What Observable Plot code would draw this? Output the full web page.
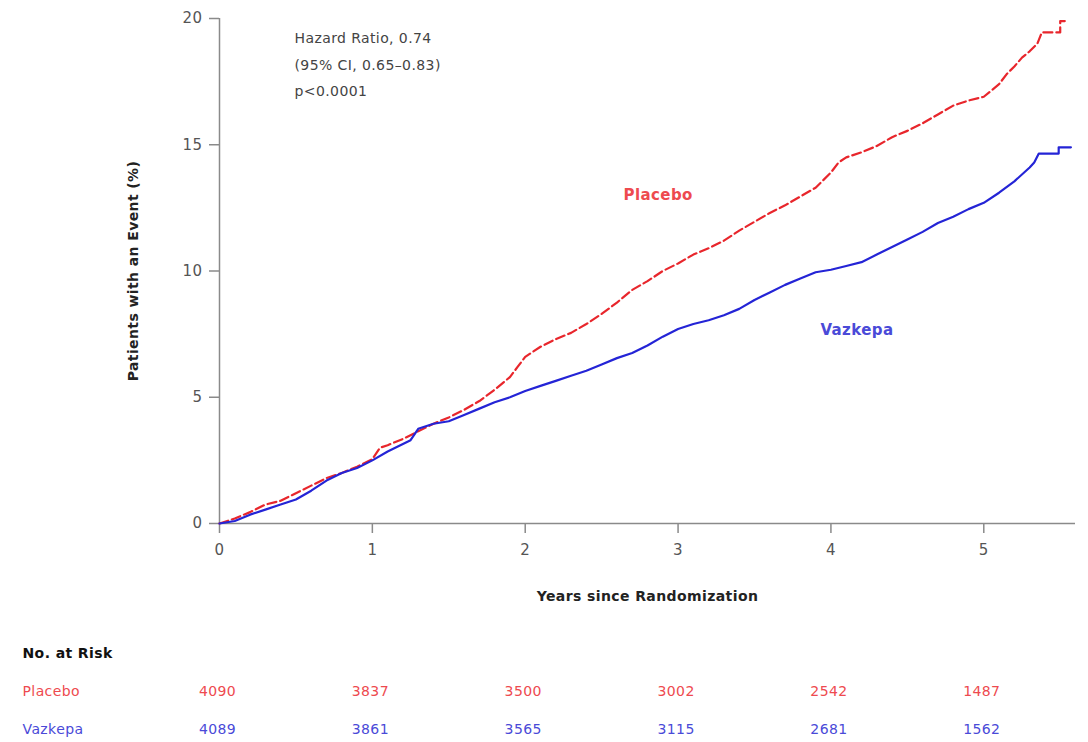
<!DOCTYPE html>
<html><head><meta charset="utf-8">
<script src="https://cdn.jsdelivr.net/npm/d3@7"></script>
<script src="https://cdn.jsdelivr.net/npm/@observablehq/plot@0.6"></script>
<style>
html,body{margin:0;padding:0;background:#fff;overflow:hidden;}
#chart svg{display:block;}
#chart text{letter-spacing:0.4px;}
</style></head><body><div id="chart"></div>
<script>
// ---- data ----
const placeboYears = [0,0.1,0.2,0.3,0.4,0.5,0.6,0.7,0.8,0.9,1.0,1.05,1.1,1.2,1.3,1.4,1.5,1.6,1.7,1.8,1.9,1.95,2.0,2.1,2.2,2.3,2.4,2.5,2.6,2.7,2.8,2.9,3.0,3.1,3.2,3.3,3.4,3.5,3.6,3.7,3.8,3.9,4.0,4.05,4.1,4.2,4.3,4.4,4.5,4.6,4.7,4.8,4.9,5.0,5.1,5.15,5.2,5.25,5.3,5.35,5.38,5.5,5.5,5.53];
const placeboPct   = [0,0.2,0.45,0.75,0.9,1.2,1.5,1.8,2.0,2.25,2.55,3.0,3.1,3.35,3.65,3.95,4.2,4.5,4.85,5.3,5.8,6.2,6.6,7.0,7.3,7.55,7.9,8.3,8.75,9.25,9.6,10.0,10.3,10.65,10.9,11.2,11.6,11.95,12.3,12.6,12.95,13.3,13.9,14.3,14.5,14.7,14.95,15.3,15.55,15.85,16.2,16.55,16.75,16.9,17.4,17.8,18.1,18.45,18.7,19.0,19.45,19.45,19.9,19.9];
const vazkepaYears = [0,0.1,0.2,0.3,0.4,0.5,0.6,0.7,0.8,0.9,1.0,1.1,1.2,1.25,1.3,1.4,1.5,1.6,1.7,1.8,1.9,2.0,2.1,2.2,2.3,2.4,2.5,2.6,2.7,2.8,2.9,3.0,3.1,3.2,3.3,3.4,3.5,3.6,3.7,3.8,3.9,4.0,4.1,4.2,4.3,4.4,4.5,4.6,4.7,4.8,4.9,5.0,5.1,5.2,5.3,5.33,5.36,5.49,5.49,5.57];
const vazkepaPct   = [0,0.1,0.35,0.55,0.75,0.95,1.3,1.7,2.0,2.2,2.5,2.85,3.15,3.3,3.75,3.95,4.05,4.3,4.55,4.8,5.0,5.25,5.45,5.65,5.85,6.05,6.3,6.55,6.75,7.05,7.4,7.7,7.9,8.05,8.25,8.5,8.85,9.15,9.45,9.7,9.95,10.05,10.2,10.35,10.65,10.95,11.25,11.55,11.9,12.15,12.45,12.7,13.1,13.55,14.1,14.3,14.65,14.65,14.9,14.9];
const xTicks = [0,1,2,3,4,5];
const yTicks = [0,5,10,15,20];
const riskYears = [0,1,2,3,4,5];
const placeboAtRisk = [4090,3837,3500,3002,2542,1487];
const vazkepaAtRisk = [4089,3861,3565,3115,2681,1562];
const groups = ["Placebo","Vazkepa"];
const riskTitle = "No. at Risk";
const hrText = "Hazard Ratio, 0.74\n(95% CI, 0.65\u20130.83)\np<0.0001";
const xLabel = "Years since Randomization";
const yLabel = "Patients with an Event (%)";

// ---- build ----
const RED = "#e8262c", BLUE = "#2424d6";
const RED_T = "#ee4a4f", BLUE_T = "#4a4ad8";
const AXIS = "#8a8a8a", TICKTXT = "#555";
const FONT = "'DejaVu Sans', 'Liberation Sans', sans-serif";

const placebo = placeboYears.map((t,i)=>({t, v:placeboPct[i]}));
const vazkepa = vazkepaYears.map((t,i)=>({t, v:vazkepaPct[i]}));

const main = Plot.plot({
  width:1088, height:620,
  marginTop:18, marginLeft:219, marginRight:13, marginBottom:97,
  x:{domain:[0,5.6]},
  y:{domain:[0,20]},
  style:{fontFamily:FONT, fontSize:"14px", background:"#fff", overflow:"visible"},
  marks:[
    Plot.axisX({ticks:xTicks, tickSize:10, tickPadding:11, stroke:AXIS, fill:TICKTXT, strokeWidth:1.5, label:null, tickFormat:d=>String(d), fontSize:15}),
    Plot.axisY({ticks:yTicks, tickSize:10, tickPadding:7, stroke:AXIS, fill:TICKTXT, strokeWidth:1.5, label:null, tickFormat:d=>String(d), fontSize:15}),
    Plot.ruleY([0], {stroke:AXIS, strokeWidth:1.5}),
    Plot.ruleX([0], {stroke:AXIS, strokeWidth:1.5}),
    Plot.line(placebo, {x:"t", y:"v", curve:"linear", stroke:RED, strokeWidth:2.2, strokeDasharray:"9,4"}),
    Plot.line(vazkepa, {x:"t", y:"v", curve:"linear", stroke:BLUE, strokeWidth:2.2}),
    Plot.text([hrText], {frameAnchor:"top-left", dx:75, dy:6, lineAnchor:"top", lineHeight:1.89, textAnchor:"start", fill:"#444", fontSize:14}),
    Plot.text([groups[0]], {x:2.87, y:13.0, fill:RED_T, fontWeight:"bold", fontSize:15}),
    Plot.text([groups[1]], {x:4.17, y:7.64, fill:BLUE_T, fontWeight:"bold", fontSize:15}),
    Plot.text([xLabel], {frameAnchor:"bottom", dy:77, textAnchor:"middle", fill:"#222", fontWeight:"bold", fontSize:14}),
    Plot.text([yLabel], {frameAnchor:"left", dx:-86, rotate:-90, textAnchor:"middle", fill:"#222", fontWeight:"bold", fontSize:14})
  ]
});

const rows = [riskTitle, ...groups];
const riskRows = [
  ...riskYears.map((t,i)=>({t, g:groups[0], n:placeboAtRisk[i]})),
  ...riskYears.map((t,i)=>({t, g:groups[1], n:vazkepaAtRisk[i]}))
];
const risk = Plot.plot({
  width:1088, height:122,
  marginTop:0, marginLeft:219, marginRight:13, marginBottom:0,
  x:{domain:[0,5.6], axis:null},
  y:{type:"point", domain:rows, range:[32,109], padding:0, axis:null},
  color:{domain:groups, range:[RED_T, BLUE_T]},
  style:{fontFamily:FONT, fontSize:"14px", background:"#fff", overflow:"visible"},
  marks:[
    Plot.text(riskRows, {x:"t", y:"g", text:d=>String(d.n), fill:"g", fontSize:14, dx:-2}),
    Plot.text(groups, {y:d=>d, text:d=>d, frameAnchor:"left", dx:-197, textAnchor:"start", fill:d=>d, fontSize:14}),
    Plot.text([riskTitle], {y:d=>d, text:d=>d, frameAnchor:"left", dx:-197, textAnchor:"start", fill:"#111", fontWeight:"bold", fontSize:14})
  ]
});

const el = document.getElementById("chart");
el.appendChild(main);
el.appendChild(risk);
</script>
</body></html>
